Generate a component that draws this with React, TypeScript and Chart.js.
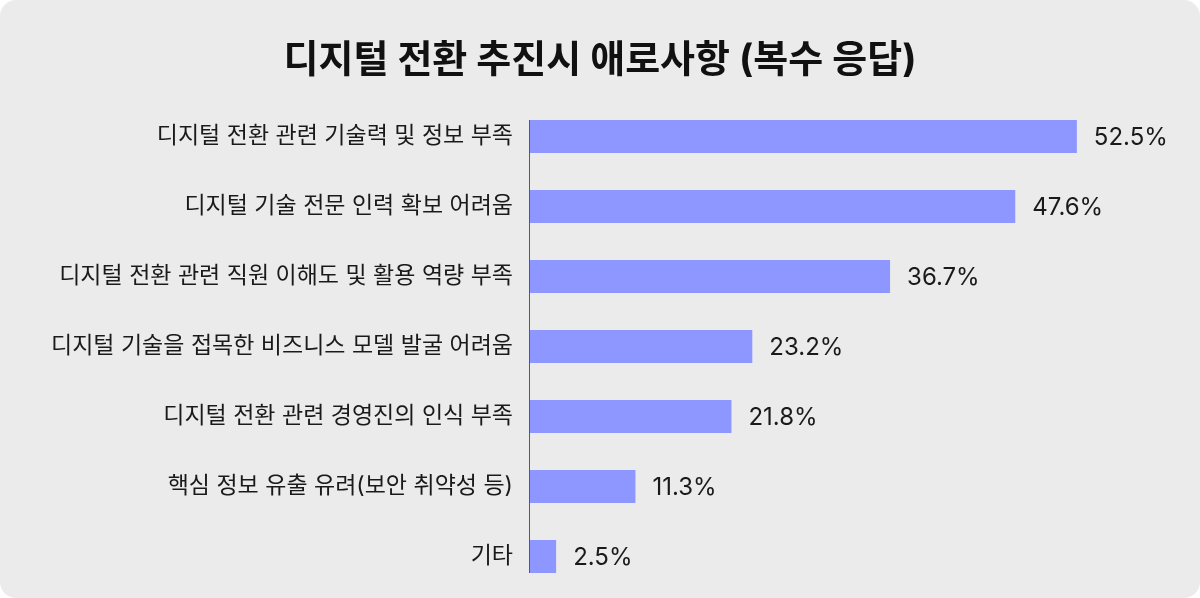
import { useEffect, useRef } from "react";
import { Chart, registerables } from "chart.js";
import type { Plugin } from "chart.js";

Chart.register(...registerables);

// ─── data ─────────────────────────────────────────────
const TITLE = "디지털 전환 추진시 애로사항 (복수 응답)";

const categories = [
  "디지털 전환 관련 기술력 및 정보 부족",
  "디지털 기술 전문 인력 확보 어려움",
  "디지털 전환 관련 직원 이해도 및 활용 역량 부족",
  "디지털 기술을 접목한 비즈니스 모델 발굴 어려움",
  "디지털 전환 관련 경영진의 인식 부족",
  "핵심 정보 유출 유려(보안 취약성 등)",
  "기타",
];

// printed shares (%)
const shares = [52.5, 47.6, 36.7, 23.2, 21.8, 11.3, 2.5];

// bar lengths as drawn in the picture (same % units)
const barLengths = [52.5, 46.6, 34.6, 21.4, 19.4, 10.2, 2.6];

// axis runs to the right edge of the canvas
const X_MAX = 64.3;

const C = {
  page: "#ffffff",
  card: "#ebebeb",
  bar: "#8d97ff",
  text: "#1a1a1a",
  title: "#111111",
  axis: "#5a5a5a",
  font: "Inter, 'Noto Sans CJK KR', 'Noto Sans', sans-serif",
};

// vertical axis line, only as tall as the bars
const axisLine: Plugin<"bar"> = {
  id: "axisLine",
  afterDatasetsDraw(chart) {
    const bars = chart.getDatasetMeta(0).data as any[];
    if (!bars.length) return;
    const first = bars[0];
    const last = bars[bars.length - 1];
    const { ctx, chartArea } = chart;
    const x = Math.round(chartArea.left) + 0.5;
    ctx.save();
    ctx.strokeStyle = C.axis;
    ctx.lineWidth = 1;
    ctx.beginPath();
    ctx.moveTo(x, first.y - first.height / 2);
    ctx.lineTo(x, last.y + last.height / 2);
    ctx.stroke();
    ctx.restore();
  },
};

// value labels after each bar
const valueLabels: Plugin<"bar"> = {
  id: "valueLabels",
  afterDatasetsDraw(chart) {
    const bars = chart.getDatasetMeta(0).data as any[];
    const { ctx } = chart;
    ctx.save();
    ctx.font = `400 24px ${C.font}`;
    ctx.fillStyle = C.text;
    ctx.textAlign = "left";
    ctx.textBaseline = "middle";
    bars.forEach((b, i) => {
      ctx.fillText(`${shares[i].toFixed(1)}%`, b.x + 17, b.y + 1);
    });
    ctx.restore();
  },
};

export default function App() {
  const canvasRef = useRef<HTMLCanvasElement>(null);

  useEffect(() => {
    document.body.style.margin = "0";
    if (!canvasRef.current) return;
    const chart = new Chart(canvasRef.current, {
      type: "bar",
      data: {
        labels: categories,
        datasets: [
          {
            data: barLengths,
            backgroundColor: C.bar,
            borderWidth: 0,
            categoryPercentage: 1,
            barPercentage: 0.471,
          },
        ],
      },
      options: {
        indexAxis: "y",
        animation: false,
        responsive: false,
        maintainAspectRatio: false,
        layout: { padding: { left: 0, right: 0, top: 0, bottom: 6.5 } },
        scales: {
          x: {
            display: false,
            min: 0,
            max: X_MAX,
          },
          y: {
            grid: { display: false, tickLength: 16 },
            border: { display: false },
            ticks: {
              color: C.text,
              padding: 0,
              font: { family: C.font, size: 23, lineHeight: 0.5 },
            },
            afterFit: (s) => {
              s.width = 529;
            },
          },
        },
        plugins: {
          legend: { display: false },
          tooltip: { enabled: false },
          title: {
            display: true,
            text: TITLE,
            color: C.title,
            font: { family: C.font, size: 38, weight: "bold", lineHeight: 1.2 },
            padding: { top: 38, bottom: 17.9 },
          },
        },
      },
      plugins: [axisLine, valueLabels],
    });
    return () => chart.destroy();
  }, []);

  return (
    <div style={{ width: 1200, height: 598, background: C.page }}>
      <div style={{ width: 1200, height: 598, background: C.card, borderRadius: 16, overflow: "hidden" }}>
        <canvas ref={canvasRef} width={1200} height={598} style={{ display: "block" }} />
      </div>
    </div>
  );
}
